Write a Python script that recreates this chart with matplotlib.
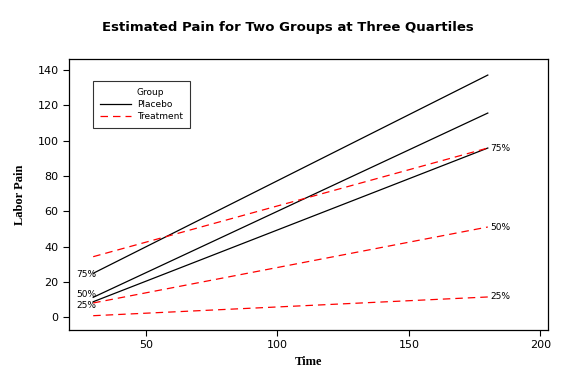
import matplotlib
matplotlib.use("Agg")
import matplotlib.pyplot as plt
from matplotlib.lines import Line2D

time = [30, 180]
quartiles = ["75%", "50%", "25%"]
placebo = {"75%": [24.9, 137.1], "50%": [11.3, 115.6], "25%": [8.8, 95.8]}
treatment = {"75%": [34.3, 95.8], "50%": [8.1, 51.1], "25%": [0.9, 11.5]}
xticks = [50, 100, 150, 200]
yticks = [0, 20, 40, 60, 80, 100, 120, 140]

fig = plt.figure(figsize=(5.76, 3.84), dpi=100)
ax = fig.add_axes([0.1198, 0.1406, 0.8312, 0.7058])

for q in quartiles:
    ax.plot(time, placebo[q], color="black", lw=0.9)
for q in quartiles:
    ax.plot(time, treatment[q], color="red", lw=0.9, dashes=(6, 4))

left_y = {"75%": placebo["75%"][0] - 0.5, "50%": placebo["50%"][0] + 1.5,
          "25%": placebo["25%"][0] - 2}
for q in quartiles:
    ax.text(time[0] - 6.5, left_y[q], q, fontsize=6.5, ha="left", va="center")
for q in quartiles:
    ax.text(time[1] + 1, treatment[q][1], q, fontsize=6.5, ha="left", va="center")

ax.set_xlim(20.8, 202.8)
ax.set_ylim(-7.2, 146.2)
ax.set_xticks(xticks)
ax.set_yticks(yticks)
ax.tick_params(axis="both", labelsize=8, direction="out", length=4, width=0.8)
for s in ax.spines.values():
    s.set_linewidth(0.9)

ax.set_xlabel("Time", fontfamily="Liberation Serif", fontweight="bold", fontsize=9)
ax.set_ylabel("Labor Pain", fontfamily="Liberation Serif", fontweight="bold",
              fontsize=9, labelpad=8)

fig.suptitle("Estimated Pain for Two Groups at Three Quartiles", fontsize=9.5,
             fontweight="bold", y=0.945)

handles = [Line2D([], [], alpha=0),
           Line2D([], [], color="black", lw=0.9),
           Line2D([], [], color="red", lw=0.9, dashes=(6, 4))]
labels = ["Group", "Placebo", "Treatment"]
leg = ax.legend(handles, labels, loc="upper left", bbox_to_anchor=(0.04, 0.935),
                fontsize=6.5, frameon=True, fancybox=False,
                edgecolor="black", handlelength=3.4, borderpad=0.8,
                labelspacing=0.3, handletextpad=0.7)
leg.get_frame().set_linewidth(0.8)

fig.savefig("out.png", dpi=100)
